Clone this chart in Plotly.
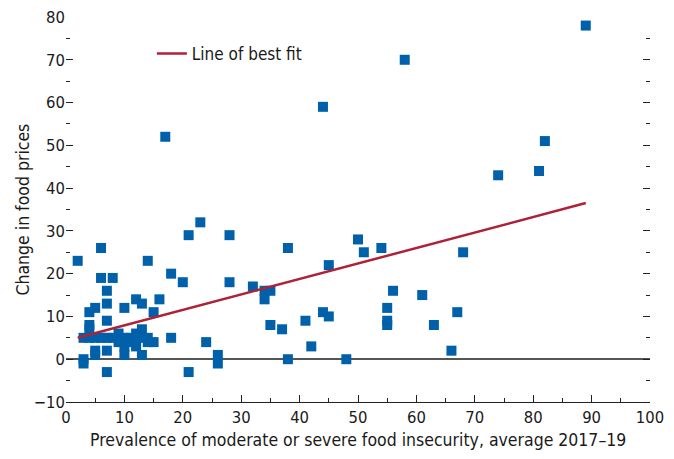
import plotly.graph_objects as go

# Data
insecurity = [2, 3, 3, 3, 4, 4, 4, 4, 5, 5, 5, 5, 6, 6, 6, 7, 7, 7, 7, 7, 7, 8, 8,
              9, 9, 10, 10, 10, 10, 11, 11, 12, 12, 12, 12, 13, 13, 13, 13, 14, 14, 14,
              15, 15, 16, 17, 18, 18, 20, 21, 21, 23, 24, 26, 26, 28, 28, 32, 34, 34,
              35, 35, 37, 38, 38, 41, 42, 44, 44, 45, 45, 48, 50, 51, 54, 55, 55, 55,
              56, 58, 61, 63, 66, 67, 68, 74, 81, 82, 89]
price_change = [23, 0, -1, 5, 5, 8, 11, 7, 12, 5, 2, 1, 26, 19, 5, 16, 13, 9, 5, 2, -3, 19, 5,
                4, 6, 12, 1, 3, 5, 4, 5, 14, 6, 4, 3, 13, 7, 5, 1, 23, 4, 5,
                11, 4, 14, 52, 20, 5, 18, 29, -3, 32, 4, 1, -1, 29, 18, 17, 16, 14,
                16, 8, 7, 26, 0, 9, 3, 59, 11, 22, 10, 0, 28, 25, 26, 12, 9, 8,
                16, 70, 15, 8, 2, 11, 25, 43, 44, 51, 78]

fit_x = [2, 89]
fit_y = [5.0, 36.5]

x_ticks = [0, 10, 20, 30, 40, 50, 60, 70, 80, 90, 100]
y_ticks = [-10, 0, 10, 20, 30, 40, 50, 60, 70, 80]

FONT = "DejaVu Sans Condensed, DejaVu Sans, sans-serif"

fig = go.Figure()
fig.add_trace(go.Scatter(
    x=insecurity, y=price_change, mode="markers",
    marker=dict(symbol="square", size=10, color="#0061AA", line=dict(width=0)),
    showlegend=False, hoverinfo="x+y"))
fig.add_trace(go.Scatter(
    x=fit_x, y=fit_y, mode="lines",
    line=dict(color="#AE2136", width=2.5),
    name="Line of best fit"))

fig.update_layout(
    width=674, height=459,
    margin=dict(l=66, r=24, t=17, b=57, autoexpand=False),
    plot_bgcolor="white", paper_bgcolor="white",
    font=dict(family=FONT, size=17, color="#1a1a1a"),
    legend=dict(x=0.147, y=0.904, xanchor="left", yanchor="middle",
                bgcolor="rgba(0,0,0,0)", font=dict(size=17)),
    xaxis=dict(range=[0, 100], tickvals=x_ticks, ticks="inside", ticklen=7,
               tickcolor="#222", showgrid=False, zeroline=False, automargin=False,
               showline=True, linecolor="#222", linewidth=1,
               minor=dict(ticks="inside", dtick=5, ticklen=4, tickcolor="#222"),
               tickfont=dict(size=16.5)),
    yaxis=dict(range=[-10, 80], tickvals=y_ticks, ticks="inside", ticklen=7,
               tickcolor="#222", showgrid=False, showline=False, mirror="ticks",
               zeroline=True, zerolinecolor="#555", zerolinewidth=1.5, automargin=False,
               minor=dict(ticks="inside", dtick=5, ticklen=4, tickcolor="#222"),
               tickfont=dict(size=16.5)),
    annotations=[
        dict(text="Prevalence of moderate or severe food insecurity, average 2017\u201319",
             xref="paper", yref="paper", x=0.5, y=-0.0987, xanchor="center", yanchor="middle",
             showarrow=False, font=dict(size=17.5)),
        dict(text="Change in food prices", textangle=-90,
             xref="paper", yref="paper", x=-0.0753, y=0.5, xanchor="center", yanchor="middle",
             showarrow=False, font=dict(size=17.5)),
    ],
)

fig.write_html("out.html",
               config={"displayModeBar": False},
               post_script="document.body.style.margin='0';document.body.style.overflow='hidden';")
